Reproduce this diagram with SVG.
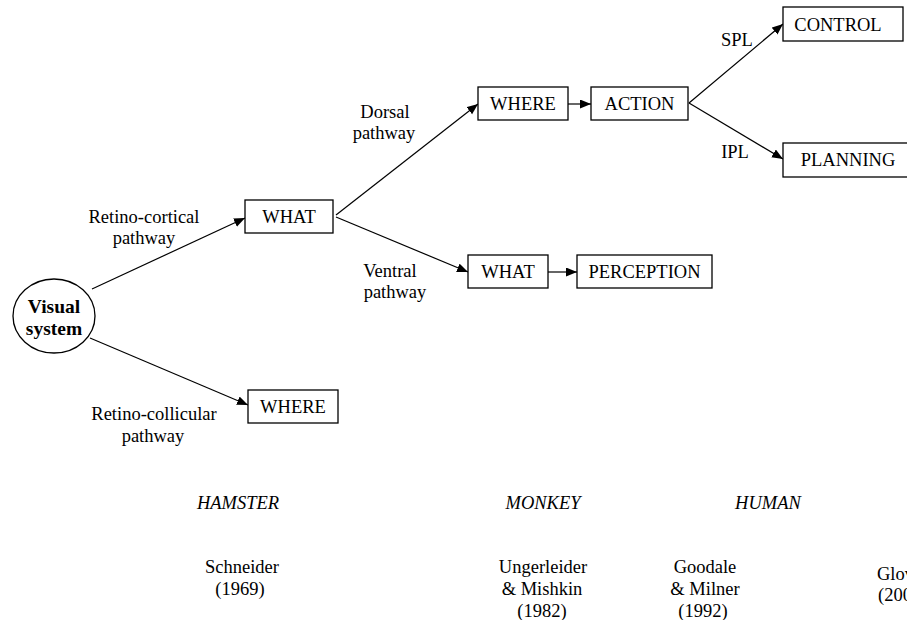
<svg xmlns="http://www.w3.org/2000/svg" width="907" height="620" viewBox="0 0 907 620">
<style>
  text { font-family: "Liberation Serif", "Times New Roman", serif; font-size: 18.5px; fill: #000; }
  .c { text-anchor: middle; }
  .it { font-style: italic; }
  .b { font-weight: bold; font-size: 19.5px; }
  .box { fill: #fff; stroke: #000; stroke-width: 1.3; }
  .ln { fill: none; stroke: #000; stroke-width: 1.2; marker-end: url(#arr); }
</style>
<defs>
  <marker id="arr" markerUnits="userSpaceOnUse" markerWidth="12" markerHeight="10" refX="11" refY="4.5" orient="auto">
    <path d="M0,0 L11,4.5 L0,9 z" fill="#000"/>
  </marker>
</defs>
<rect width="907" height="620" fill="#fff"/>
<g id="connectors">
  <line class="ln" x1="92" y1="289" x2="245" y2="218"/>
  <line class="ln" x1="90" y1="338" x2="248" y2="405"/>
  <line class="ln" x1="336" y1="215" x2="478" y2="104"/>
  <line class="ln" x1="336" y1="217" x2="468" y2="272"/>
  <line class="ln" x1="568" y1="104" x2="591" y2="104"/>
  <line class="ln" x1="548" y1="272" x2="577" y2="272"/>
  <line class="ln" x1="689" y1="103" x2="783" y2="24"/>
  <line class="ln" x1="689" y1="103" x2="783" y2="159"/>
</g>
<g id="visual-system">
  <ellipse cx="54" cy="316" rx="41" ry="37" fill="#fff" stroke="#000" stroke-width="1.3"/>
  <text class="c b" x="54" y="313">Visual</text>
  <text class="c b" x="54" y="335">system</text>
</g>
<g id="what1"><rect class="box" x="245" y="200" width="88" height="33"/><text class="c" x="289" y="223">WHAT</text></g>
<g id="where1"><rect class="box" x="248" y="390" width="90" height="33"/><text class="c" x="293" y="413">WHERE</text></g>
<g id="where2"><rect class="box" x="478" y="87" width="90" height="33"/><text class="c" x="523" y="110">WHERE</text></g>
<g id="action"><rect class="box" x="591" y="87" width="97" height="33"/><text class="c" x="639.5" y="110">ACTION</text></g>
<g id="control"><rect class="box" x="783" y="7" width="120" height="34"/><text class="c" x="838" y="30.5">CONTROL</text></g>
<g id="planning"><rect class="box" x="783" y="143" width="130" height="34"/><text class="c" x="848" y="166">PLANNING</text></g>
<g id="what2"><rect class="box" x="468" y="255" width="80" height="33"/><text class="c" x="508" y="278">WHAT</text></g>
<g id="perception"><rect class="box" x="577" y="255" width="135" height="33"/><text class="c" x="644.5" y="278">PERCEPTION</text></g>
<g id="labels">
  <text class="c" x="144" y="223">Retino-cortical</text>
  <text class="c" x="144" y="244">pathway</text>
  <text class="c" x="154" y="420">Retino-collicular</text>
  <text class="c" x="153" y="442">pathway</text>
  <text class="c" x="385" y="118">Dorsal</text>
  <text class="c" x="384" y="139">pathway</text>
  <text class="c" x="390" y="277">Ventral</text>
  <text class="c" x="395" y="298">pathway</text>
  <text class="c" x="737" y="46">SPL</text>
  <text class="c" x="735" y="158">IPL</text>
</g>
<g id="species">
  <text class="c it" x="238" y="509">HAMSTER</text>
  <text class="c it" x="543" y="509">MONKEY</text>
  <text class="c it" x="768" y="509">HUMAN</text>
</g>
<g id="references">
  <text class="c" x="242" y="573">Schneider</text>
  <text class="c" x="240" y="595">(1969)</text>
  <text class="c" x="543" y="573">Ungerleider</text>
  <text class="c" x="542" y="595">&amp; Mishkin</text>
  <text class="c" x="542" y="617">(1982)</text>
  <text class="c" x="705" y="573">Goodale</text>
  <text class="c" x="705" y="595">&amp; Milner</text>
  <text class="c" x="703" y="617">(1992)</text>
  <text x="877" y="580">Glover</text>
  <text x="878" y="601">(2003)</text>
</g>
</svg>
